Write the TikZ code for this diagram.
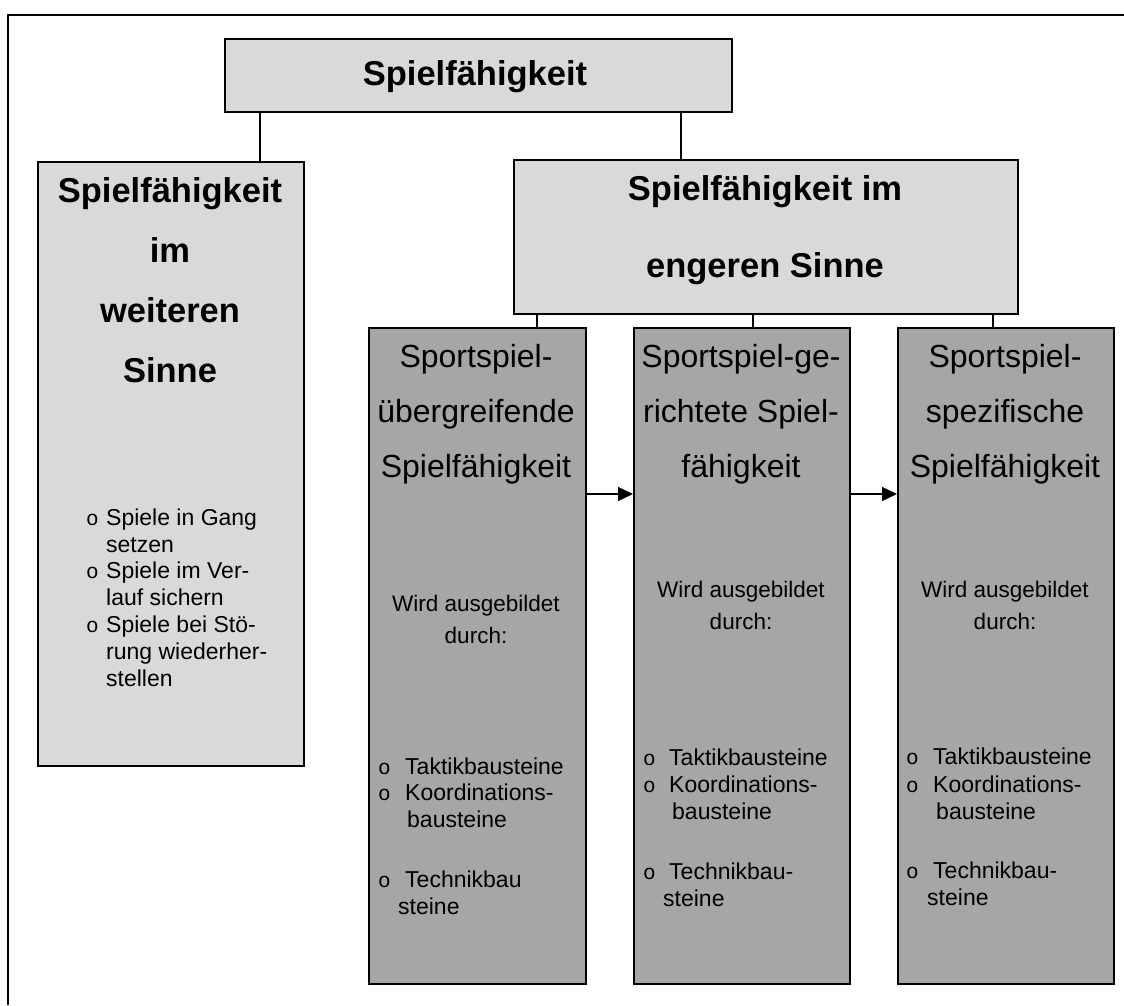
\documentclass[tikz,border=0pt]{standalone}
\usepackage{fontspec}
\setmainfont{Liberation Sans}
\newfontfamily\bulfont{Liberation Mono}
\usetikzlibrary{arrows.meta}
\definecolor{boxlight}{HTML}{D9D9D9}
\definecolor{boxdark}{HTML}{A6A6A6}
\tikzset{box/.style = {draw,line width=2pt,fill=boxlight,inner sep=0pt,anchor=north west},
         sbox/.style = {box,fill=boxdark},
         wh/.style 2 args = {minimum width=#1pt,minimum height=#2pt},
         link/.style = {line width=1.3pt},
         arr/.style = {line width=1.3pt,-{Triangle[length=15pt,width=14pt]}},
         head/.style = {font=\fontsize{34.5}{60}\selectfont\bfseries,align=center,anchor=base,inner sep=0pt},
         sub/.style = {font=\fontsize{32}{55}\selectfont,align=center,anchor=base,inner sep=0pt},
         note/.style = {font=\fontsize{22.5}{32}\selectfont,align=center,anchor=base,inner sep=0pt},
         item/.style = {font=\fontsize{23}{27}\selectfont,align=left,anchor=base west,inner sep=0pt},
         bul/.style = {font=\fontsize{21}{22}\bulfont,anchor=base west,inner sep=0pt}}
\begin{document}
\begin{tikzpicture}[x=1pt,y=-1pt]
    \useasboundingbox (0,0) rectangle (1124,1005);
    \draw[line width=2pt] (8,1005) -- (8,15) -- (1124,15);

    \node[box,wh={507}{73}]  (top)  at (224,38)  {};
    \node[box,wh={266}{604}] (wide) at (37,161)  {};
    \node[box,wh={504}{154}] (narrow) at (513,159) {};
    \node[sbox,wh={217}{656}] (a) at (368,327) {};
    \node[sbox,wh={216}{656}] (b) at (633,327) {};
    \node[sbox,wh={216}{656}] (c) at (897,327) {};

    \coordinate (l1) at (260,0);
    \coordinate (l2) at (681,0);
    \coordinate (l3) at (537,0);
    \coordinate (l4) at (753,0);
    \coordinate (l5) at (993,0);
    \coordinate (ay) at (0,494);
    \draw[link] (l1 |- top.south) to (l1 |- wide.north);
    \draw[link] (l2 |- top.south) to (l2 |- narrow.north);
    \draw[link] (l3 |- narrow.south) to (l3 |- a.north);
    \draw[link] (l4 |- narrow.south) to (l4 |- b.north);
    \draw[link] (l5 |- narrow.south) to (l5 |- c.north);
    \draw[arr] (a.east |- ay) to (b.west |- ay);
    \draw[arr] (b.east |- ay) to (c.west |- ay);

    \node[head] (t0) at (475,85)  {Spielfähigkeit};
    \node[head] (t1) at (170,382) {Spielfähigkeit\\im\\weiteren\\Sinne};
    \node[head,font=\fontsize{34.5}{77}\selectfont\bfseries] (t2) at (765,277) {Spielfähigkeit im\\engeren Sinne};

    \node[bul]  at (86,525)  {o};
    \node[item] (w1) at (106,552) {Spiele in Gang\\setzen};
    \node[bul]  at (86,578)  {o};
    \node[item] (w2) at (106,605) {Spiele im Ver-\\lauf sichern};
    \node[bul]  at (86,632)  {o};
    \node[item] (w3) at (106,686) {Spiele bei Stö-\\rung wiederher-\\stellen};

    \node[sub] (ta) at (476,477) {Sportspiel-\\übergreifende\\Spielfähigkeit};
    \node[sub] (tb) at (741,477) {Sportspiel-ge-\\richtete Spiel-\\fähigkeit};
    \node[sub] (tc) at (1005,477) {Sportspiel-\\spezifische\\Spielfähigkeit};

    \node[note] (na) at (476,643) {Wird ausgebildet\\durch:};
    \node[note] (nb) at (741,629) {Wird ausgebildet\\durch:};
    \node[note] (nc) at (1005,629) {Wird ausgebildet\\durch:};

    \node[bul]  at (378,774) {o};
    \node[item] (a1) at (405,774) {Taktikbausteine};
    \node[bul]  at (378,800) {o};
    \node[item] (a2) at (405,827) {Koordinations-\\\hspace{2pt}bausteine};
    \node[bul]  at (378,887) {o};
    \node[item] (a3) at (398,914) {\hspace{7pt}Technikbau\\steine};

    \node[bul]  at (643,765) {o};
    \node[item] (b1) at (669,765) {Taktikbausteine};
    \node[bul]  at (643,792) {o};
    \node[item] (b2) at (669,819) {Koordinations-\\\hspace{3pt}bausteine};
    \node[bul]  at (643,879) {o};
    \node[item] (b3) at (663,906) {\hspace{6pt}Technikbau-\\steine};

    \node[bul]  at (906,764) {o};
    \node[item] (c1) at (933,764) {Taktikbausteine};
    \node[bul]  at (906,792) {o};
    \node[item] (c2) at (933,819) {Koordinations-\\\hspace{3pt}bausteine};
    \node[bul]  at (906,878) {o};
    \node[item] (c3) at (927,905) {\hspace{6pt}Technikbau-\\steine};
\end{tikzpicture}
\end{document}
